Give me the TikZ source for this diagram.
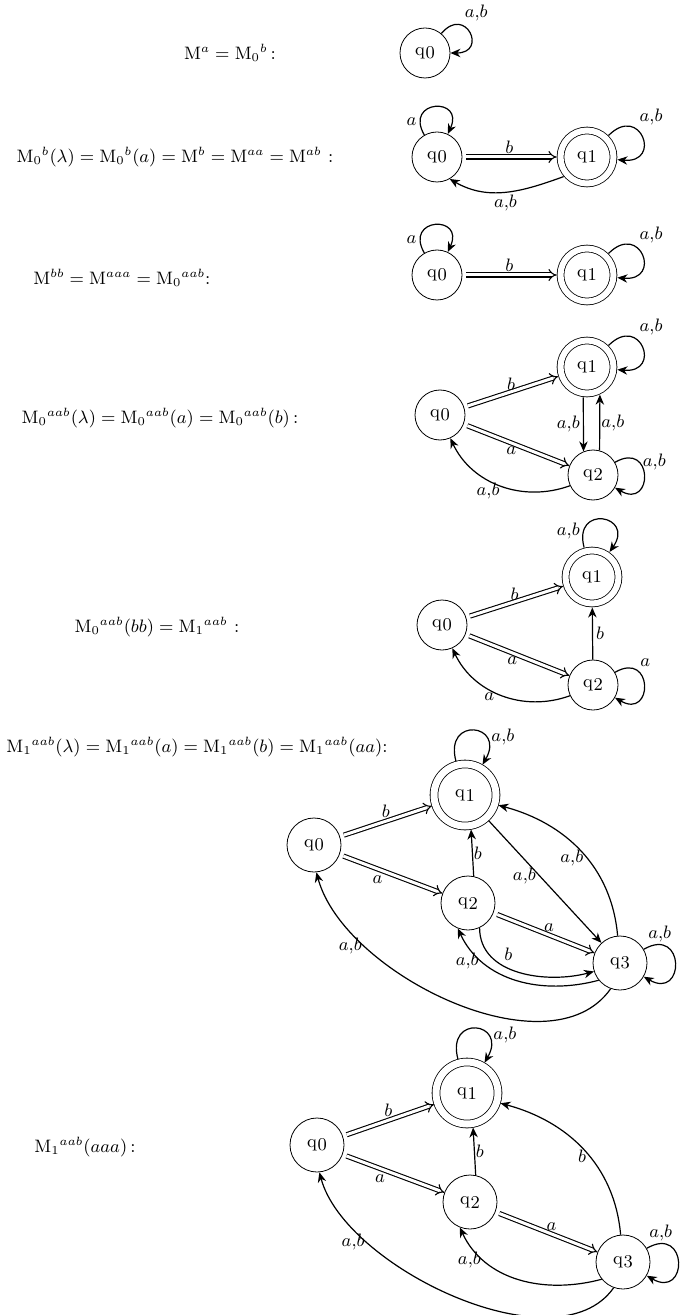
\documentclass[tikz,border=0pt]{standalone}
\usepackage{amsmath}
\usetikzlibrary{arrows.meta,positioning}
\newcommand{\qs}[1]{q\kern.3pt\raisebox{-.45ex}{#1}}
\newcommand{\Mx}{\mathrm{M}}
\newcommand{\ab}{$a{,}b$}

\begin{document}
\begin{tikzpicture}[x=0.5pt, y=-0.5pt,
  font=\small,
  state/.style={draw, circle, thin, inner sep=0pt, minimum size=25pt},
  bigstate/.style={state, minimum size=27pt},
  accept/.style={state, double, double distance=3pt, minimum size=26.5pt, outer sep=2pt},
  bigaccept/.style={accept, double distance=3.5pt, minimum size=31pt},
  eqn/.style={font=\fontsize{9.2}{11}\selectfont, inner sep=0pt},
  lab/.style={font=\small, inner sep=1.5pt},
  arr/.style={-{Stealth[length=5pt,width=4.2pt,inset=1.6pt]}, semithick},
  darr/.style={double, double distance=1.5pt, line width=.55pt, -{Implies}, shorten <=2pt},
  selfloop/.style={arr, looseness=4.5}
]
\useasboundingbox (0,0) rectangle (684,1315);

% M^a = M_0^b
\node[eqn] (t1) at (230,53) {$\Mx^{a} = \Mx_0{}^{b}$\,:};
\node[state] (d1q0) at (425,53) {\qs0};
\draw[selfloop] (d1q0) to[out=50,in=0] node[lab, pos=.3, above right] {\ab} (d1q0);

% M_0^b(lambda) = ...
\node[eqn] (t2) at (175,157) {$\Mx_0{}^{b}(\lambda) = \Mx_0{}^{b}(a) = \Mx^{b} = \Mx^{aa} = \Mx^{ab}$ :};
\node[state] (d2q0) at (437,157) {\qs0};
\node[accept] (d2q1) at (587,157) {\qs1};
\draw[selfloop] (d2q0) to[out=120,in=65] node[lab, pos=.15, left] {$a$} (d2q0);
\draw[selfloop] (d2q1) to[out=45,in=-5] node[lab, pos=.35, above right] {\ab} (d2q1);
\draw[darr] (d2q0) -- node[lab, above] {$b$} (d2q1);
\draw[arr] (d2q1.-140) to[out=-160,in=-30] node[lab, below] {\ab} (d2q0.-60);

% M^bb = M^aaa = M_0^aab
\node[eqn] (t3) at (122,278) {$\Mx^{bb} = \Mx^{aaa} = \Mx_0{}^{aab}$:};
\node[state] (d3q0) at (437,275) {\qs0};
\node[accept] (d3q1) at (587,275) {\qs1};
\draw[selfloop] (d3q0) to[out=120,in=65] node[lab, pos=.15, left] {$a$} (d3q0);
\draw[selfloop] (d3q1) to[out=45,in=-5] node[lab, pos=.35, above right] {\ab} (d3q1);
\draw[darr] (d3q0) -- node[lab, above] {$b$} (d3q1);

% M_0^aab(lambda) = ...
\node[eqn] (t4) at (160,418) {$\Mx_0{}^{aab}(\lambda) = \Mx_0{}^{aab}(a) = \Mx_0{}^{aab}(b)$\,:};
\node[state] (d4q0) at (440,415) {\qs0};
\node[accept] (d4q1) at (587,367) {\qs1};
\node[state] (d4q2) at (593,475) {\qs2};
\draw[darr] (d4q0) -- node[lab, above, inner sep=.5pt] {$b$} (d4q1);
\draw[darr] (d4q0) -- node[lab, below, pos=.45] {$a$} (d4q2);
\draw[arr] (d4q1.-97) -- node[lab, left] {\ab} (d4q2.112);
\draw[arr] (d4q2.75) -- node[lab, right, inner sep=.5pt] {\ab} (d4q1.-65);
\draw[arr] (d4q2.-155) to[out=200,in=-65] node[lab, below, pos=.6] {\ab} (d4q0.-66);
\draw[selfloop] (d4q1) to[out=45,in=-5] node[lab, pos=.35, above right] {\ab} (d4q1);
\draw[selfloop] (d4q2) to[out=30,in=-30] node[lab, pos=.3, right] {\ab} (d4q2);

% M_0^aab(bb) = M_1^aab
\node[eqn] (t5) at (157,627) {$\Mx_0{}^{aab}(bb) = \Mx_1{}^{aab}$ :};
\node[state] (d5q0) at (442,625) {\qs0};
\node[accept] (d5q1) at (592,577) {\qs1};
\node[state] (d5q2) at (593,685) {\qs2};
\draw[darr] (d5q0) -- node[lab, above, inner sep=.5pt] {$b$} (d5q1);
\draw[darr] (d5q0) -- node[lab, below, pos=.45] {$a$} (d5q2);
\draw[arr] (d5q2) -- node[lab, right] {$b$} (d5q1);
\draw[arr] (d5q2.-155) to[out=200,in=-65] node[lab, below, pos=.6] {$a$} (d5q0.-66);
\draw[selfloop] (d5q1) to[out=105,in=55] node[lab, pos=.15, left] {\ab} (d5q1);
\draw[selfloop] (d5q2) to[out=30,in=-30] node[lab, pos=.25, above right] {$a$} (d5q2);

% M_1^aab(lambda) = ...
\node[eqn] (t6) at (197,747) {$\Mx_1{}^{aab}(\lambda) = \Mx_1{}^{aab}(a) = \Mx_1{}^{aab}(b) = \Mx_1{}^{aab}(aa)$:};
\node[bigstate] (d6q0) at (314,845) {\qs0};
\node[bigaccept] (d6q1) at (465,795) {\qs1};
\node[bigstate] (d6q2) at (468,903) {\qs2};
\node[bigstate] (d6q3) at (620,963) {\qs3};
\draw[darr] (d6q0) -- node[lab, above] {$b$} (d6q1);
\draw[darr] (d6q0) -- node[lab, below left, pos=.45] {$a$} (d6q2);
\draw[darr] (d6q2) -- node[lab, above, pos=.55] {$a$} (d6q3);
\draw[arr] (d6q2.78) -- node[lab, right, inner sep=.5pt] {$b$} (d6q1.-80);
\draw[arr] (d6q1) -- node[lab, left, pos=.45] {\ab} (d6q3);
\draw[arr] (d6q3.95) to[out=95,in=-15] node[lab, left, pos=.45] {\ab} (d6q1.-17);
\draw[arr] (d6q2.-65) to[out=-90,in=195] node[lab, above right, pos=.35] {$b$} (d6q3.-162);
\draw[arr] (d6q3.-141) to[out=195,in=-65] node[lab, left, pos=.75] {\ab} (d6q2.-112);
\draw[arr] (d6q3.-110) to[out=-125,in=-75,looseness=.85] node[lab, left, pos=.75] {\ab} (d6q0.-85);
\draw[selfloop] (d6q1) to[out=105,in=60] node[lab, pos=.85, above right] {\ab} (d6q1);
\draw[selfloop] (d6q3) to[out=30,in=-30] node[lab, pos=.2, above, xshift=-2pt] {\ab} (d6q3);

% M_1^aab(aaa)
\node[eqn] (t7) at (85,1147) {$\Mx_1{}^{aab}(aaa)$\,:};
\node[bigstate] (d7q0) at (317,1145) {\qs0};
\node[bigaccept] (d7q1) at (467,1093) {\qs1};
\node[bigstate] (d7q2) at (470,1202) {\qs2};
\node[bigstate] (d7q3) at (623,1262) {\qs3};
\draw[darr] (d7q0) -- node[lab, above] {$b$} (d7q1);
\draw[darr] (d7q0) -- node[lab, below left, pos=.45] {$a$} (d7q2);
\draw[darr] (d7q2) -- node[lab, above, pos=.55] {$a$} (d7q3);
\draw[arr] (d7q2.78) -- node[lab, right, inner sep=.5pt] {$b$} (d7q1.-80);
\draw[arr] (d7q3.95) to[out=95,in=-15] node[lab, left, pos=.45] {$b$} (d7q1.-17);
\draw[arr] (d7q3.-141) to[out=195,in=-65] node[lab, left, pos=.75] {\ab} (d7q2.-112);
\draw[arr] (d7q3.-110) to[out=-125,in=-75,looseness=.8] node[lab, left, pos=.75] {\ab} (d7q0.-85);
\draw[selfloop] (d7q1) to[out=105,in=60] node[lab, pos=.85, above right] {\ab} (d7q1);
\draw[selfloop] (d7q3) to[out=30,in=-30] node[lab, pos=.2, above, xshift=-3pt] {\ab} (d7q3);
\end{tikzpicture}
\end{document}
